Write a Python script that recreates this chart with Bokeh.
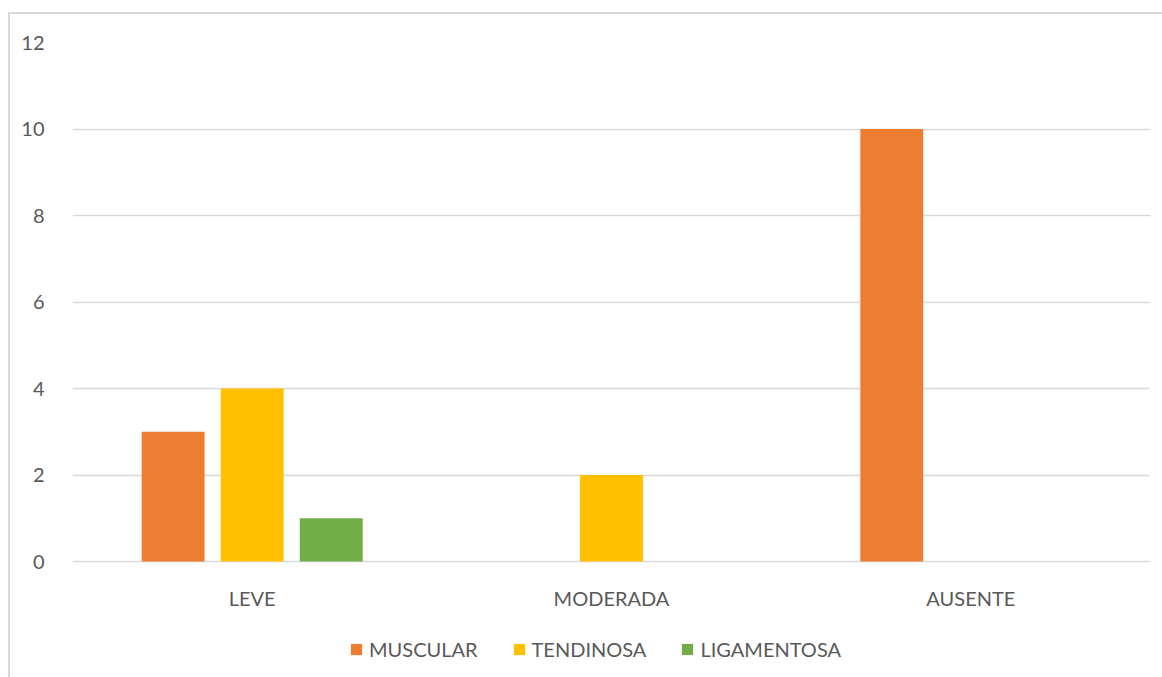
from bokeh.plotting import figure
from bokeh.models import ColumnDataSource, Legend, LegendItem, FixedTicker
from bokeh.core.properties import value
from bokeh.transform import dodge
from bokeh.embed import file_html
from bokeh.resources import INLINE

categories = ["LEVE", "MODERADA", "AUSENTE"]
muscular = [3, 0, 10]
tendinosa = [4, 2, 0]
ligamentosa = [1, 0, 0]
series_names = ["MUSCULAR", "TENDINOSA", "LIGAMENTOSA"]
colors = ["#ED7D31", "#FFC000", "#70AD47"]
y_ticks = [0, 2, 4, 6, 8, 10, 12]

src = ColumnDataSource(dict(cat=categories, MUSCULAR=muscular, TENDINOSA=tendinosa, LIGAMENTOSA=ligamentosa))

FONT = "Lato"
TXT = "#595959"

# frame extends below zero to host category labels and legend (y ticks only 0..12)
p = figure(x_range=categories, y_range=(-2.728, 12), width=1154, height=665,
           output_backend="svg", toolbar_location=None,
           min_border_left=62, min_border_right=14, min_border_top=28, min_border_bottom=0)
p.margin = (12, 0, 0, 8)
p.styles = {"border-left": "2px solid #d9d9d9", "border-top": "2px solid #d9d9d9"}
p.outline_line_color = None
p.background_fill_color = "white"
p.border_fill_color = "white"

offsets = [-0.22, 0.0, 0.22]
renderers = []
for name, col, off in zip(series_names, colors, offsets):
    r = p.vbar(x=dodge("cat", off, range=p.x_range), top=name, width=0.175,
               source=src, fill_color=col, line_color=None)
    renderers.append(r)

# category labels (x axis)
p.text(x="cat", y=-0.855, text="cat", source=src, text_align="center", text_baseline="middle",
       text_font=value(FONT), text_font_size="20px", text_color=TXT)

p.xaxis.visible = False
p.xgrid.grid_line_color = None
p.ygrid.grid_line_color = "#d9d9d9"
p.ygrid.grid_line_width = 1.5
p.yaxis.ticker = FixedTicker(ticks=y_ticks)

ax = p.yaxis[0]
ax.axis_line_color = None
ax.major_tick_line_color = None
ax.minor_tick_line_color = None
ax.major_label_text_font = FONT
ax.major_label_text_font_size = "20px"
ax.major_label_text_color = TXT
ax.major_label_standoff = 22

legend = Legend(items=[LegendItem(label=n, renderers=[r]) for n, r in zip(series_names, renderers)],
                orientation="horizontal", location=(277, 18),
                glyph_width=14, glyph_height=14, label_standoff=6, spacing=34,
                label_text_font=FONT, label_text_font_size="20px", label_text_color=TXT,
                border_line_color=None, background_fill_alpha=0, padding=0, margin=0)
p.add_layout(legend, "center")

open("out.html", "w").write(file_html(p, INLINE))
